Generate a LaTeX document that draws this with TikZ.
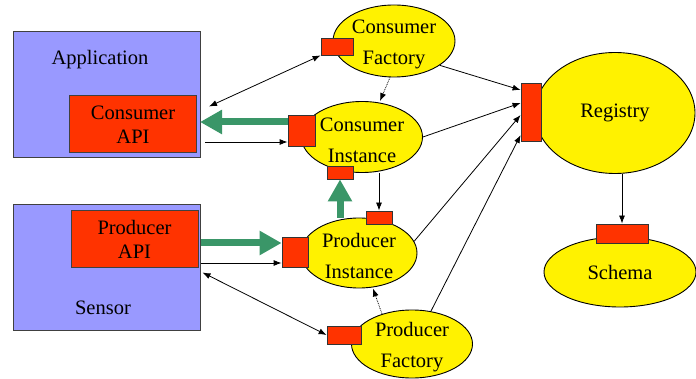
\documentclass[tikz,border=0pt]{standalone}
\usepackage{fontspec}
\setmainfont{Liberation Serif}
\usetikzlibrary{shapes.geometric,arrows.meta}

\definecolor{boxblue}{RGB}{153,153,255}
\definecolor{apired}{RGB}{255,51,0}
\definecolor{flowgreen}{RGB}{58,150,104}

\newcommand{\twoline}[2]{\rule{0pt}{21pt}#1\\[7pt]#2}

\tikzset{
	sysbox/.style={rectangle, draw=black!75, fill=boxblue, line width=1pt, minimum width=187pt, minimum height=126pt},
	apibox/.style={rectangle, draw=black!75, fill=apired, line width=1pt, minimum width=127pt, minimum height=57pt, align=center},
	comp/.style={ellipse, draw, fill=yellow, line width=0.9pt, inner xsep=-4pt, inner ysep=-8pt, align=center},
	port/.style={rectangle, draw=black!80, fill=apired, line width=0.8pt, inner sep=0pt},
	bigarrow/.style={draw=flowgreen, line width=7pt, -{Triangle[width=23pt,length=22pt,fill=flowgreen]}}
}

\begin{document}
\begin{tikzpicture}[x=1pt, y=-1pt, font=\rmfamily\fontsize{20.5}{24}\selectfont, line width=0.8pt, >={Latex[length=8pt,width=6pt]}]
	\useasboundingbox (0,0) rectangle (696,379);
	\node (app) at (106.5,94.5) [sysbox] {};
	\node (apptext) at (100,60) {Application};
	\node (capi) at (133,124.5) [apibox] {Consumer\\API};
	\node (sensor) at (107,267.5) [sysbox] {};
	\node (papi) at (134.5,239.5) [apibox] {Producer\\API};
	\node (sensortext) at (103,308) {Sensor};
		\node (cfact) at (394,41) [comp, minimum width=122pt, minimum height=72pt] {\twoline{Consumer}{Factory}};
		\node (cinst) at (362,137) [comp, minimum width=121pt, minimum height=71pt] {\twoline{Consumer}{Instance}};
		\node (pinst) at (359,253) [comp, minimum width=116pt, minimum height=70pt] {\twoline{Producer}{Instance}};
		\node (pfact) at (412,344) [comp, minimum width=121pt, minimum height=68pt] {\twoline{Producer}{Factory}};
			\node (reg) at (615,113) [comp, minimum width=160pt, minimum height=121pt] {Registry};
			\node (schema) at (620,272) [comp, minimum width=152pt, minimum height=70pt] {Schema};
	\node (cfport) at (337,46.5) [port, minimum width=32pt, minimum height=17pt] {};
	\node (regport) at (531,112) [port, minimum width=20pt, minimum height=58pt] {};
	\node (ciport) at (301.5,130.5) [port, minimum width=27pt, minimum height=31pt] {};
	\node (cibport) at (340,172.5) [port, minimum width=26pt, minimum height=13pt] {};
	\node (piport) at (295,252) [port, minimum width=26pt, minimum height=30pt] {};
	\node (pitport) at (379,217.5) [port, minimum width=26pt, minimum height=13pt] {};
	\node (pfport) at (344,335) [port, minimum width=34pt, minimum height=18pt] {};
	\node (scport) at (622,233.5) [port, minimum width=52pt, minimum height=19pt] {};
	\draw[<->] (cfport.south west) to ([shift={(12,11)}]capi.north east);
	\draw[bigarrow] ([yshift=8.5pt]ciport.west) to ([xshift=3pt,yshift=2.5pt]capi.east);
	\draw[->] ([xshift=8pt,yshift=-17.5pt]capi.east) to ([yshift=-11.5pt]ciport.west);
	\draw[->, densely dotted] ([xshift=-4pt]cfact.south) to ([xshift=18pt]cinst.north);
	\draw[->] (cfact.-28) to ([yshift=22pt]regport.west);
	\draw[->] (cinst.east) to ([yshift=9pt]regport.west);
	\draw[->] (pinst.12) to ([yshift=-3pt]regport.west);
	\draw[->] (pfact.60) to ([yshift=-23pt]regport.west);
	\draw[->] (scport.north |- reg.south) to (scport.north);
	\draw[->] (pitport.north |- cinst.south) to (pitport.north);
	\draw[bigarrow] (cibport.south |- pinst.north) to (cibport.south);
	\draw[bigarrow] ([xshift=2pt,yshift=-3.5pt]papi.east) to ([yshift=9pt]piport.west);
	\draw[->] ([xshift=2pt,yshift=-23.5pt]papi.east) to ([yshift=-11pt]piport.west);
	\draw[<->] ([shift={(4,4)}]papi.south east) to (pfport.west);
	\draw[->, densely dotted] (pfact.135) to ([xshift=14pt]pinst.south);
\end{tikzpicture}
\end{document}
